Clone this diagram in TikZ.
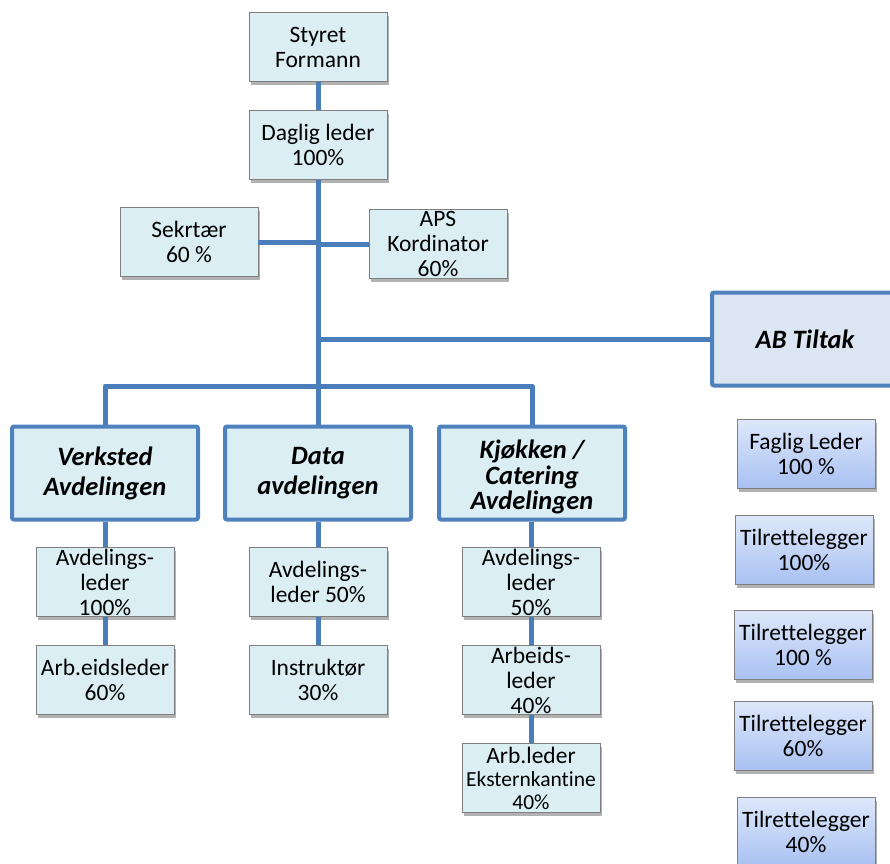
\documentclass[tikz,border=0pt]{standalone}
\usepackage{fontspec}
\setmainfont{Carlito}[Ligatures=NoCommon]
\usetikzlibrary{shadows}
\definecolor{boxfill}{HTML}{DAEEF3}
\definecolor{boxline}{HTML}{7F7F7F}
\definecolor{conn}{HTML}{4A7EBB}
\definecolor{deptline}{HTML}{4F81BD}
\definecolor{abfill}{HTML}{DCE6F2}
\definecolor{gradtop}{HTML}{DDE7FA}
\definecolor{gradbot}{HTML}{A9C1F2}
\begin{document}
\begin{tikzpicture}[x=1pt,y=-1pt,
  boxshape/.style={draw=boxline, line width=0.9pt, minimum width=138pt, minimum height=69pt, inner sep=0pt,
    drop shadow={shadow xshift=2pt, shadow yshift=-3pt, opacity=0.3, fill=black}},
  box/.style={boxshape, fill=boxfill},
  gbox/.style={boxshape, top color=gradtop, bottom color=gradbot},
  txt/.style={align=center, font=\fontsize{23.5}{25}\selectfont, inner sep=0pt},
  smalltxt/.style={align=center, font=\fontsize{21.5}{23}\selectfont, inner sep=0pt},
  dept/.style={draw=deptline, line width=4pt, fill=boxfill, rounded corners=2pt, minimum width=186pt, minimum height=93pt, inner sep=0pt},
  depttxt/.style={align=center, font=\fontsize{26.5}{30}\selectfont\bfseries\itshape, inner sep=0pt},
  conn/.style={draw=conn, line width=5pt, line join=round},
]
\useasboundingbox (0,0) rectangle (890,863);
\clip (0,0) rectangle (890,863);

% top
\node[box, label={[txt]center:{Styret\\Formann}}] (styret) at (318,47) {};
\node[box, label={[txt]center:{Daglig leder\\100\%}}] (daglig) at (318,145) {};
\node[box, label={[txt]center:{Sekrtær\\60 \%}}] (sek) at (189,242) {};
\node[box, label={[txt]center:{APS\\Kordinator\\60\%}}] (aps) at (438,244) {};

% AB Tiltak
\node[dept, fill=abfill, label={[depttxt]center:{AB Tiltak}}] (ab) at (805,339) {};

% departments
\coordinate (jbar) at (318,386);
\node[dept, label={[depttxt]center:{Verksted\\Avdelingen}}] (verk) at (105,473) {};
\node[dept, label={[depttxt]center:{Data\\avdelingen}}] (data) at (318,473) {};
\node[dept, label={[depttxt, yshift=-4pt, font=\fontsize{26.5}{25.5}\selectfont\bfseries\itshape]center:{Kjøkken /\\Catering\\Avdelingen}}] (kjok) at (532,473) {};

% sub boxes
\node[box, label={[txt]center:{Avdelings-\\leder\\100\%}}] (av1) at (105,582) {};
\node[box, label={[txt]center:{Arb.eidsleder\\60\%}}] (ar1) at (105,680) {};
\node[box, label={[txt]center:{Avdelings-\\leder 50\%}}] (av2) at (318,582) {};
\node[box, label={[txt]center:{Instruktør\\30\%}}] (in2) at (318,680) {};
\node[box, label={[txt]center:{Avdelings-\\leder\\50\%}}] (av3) at (531,582) {};
\node[box, label={[txt]center:{Arbeids-\\leder\\40\%}}] (ar3) at (531,680) {};
\node[box, label={[smalltxt]center:{{\fontsize{23.5}{23}\selectfont Arb.leder}\\Eksternkantine\\40\%}}] (ek3) at (531,778) {};

% right column
\node[gbox, label={[txt]center:{Faglig Leder\\100 \%}}] (fag) at (806,454) {};
\node[gbox, label={[txt]center:{Tilrettelegger\\100\%}}] (t1) at (804,550) {};
\node[gbox, label={[txt]center:{Tilrettelegger\\100 \%}}] (t2) at (803,645) {};
\node[gbox, label={[txt]center:{Tilrettelegger\\60\%}}] (t3) at (803,736) {};
\node[gbox, label={[txt]center:{Tilrettelegger\\40\%}}] (t4) at (806,832) {};

% connectors
\draw[conn] (styret.south) -- (daglig.north);
\draw[conn] (daglig.south) -- (data.north);
\draw[conn] (sek.east) -- (sek.east -| daglig.south);
\draw[conn] (aps.west) -- (aps.west -| daglig.south);
\draw[conn] (ab.west -| daglig.south) -- (ab.west);
\draw[conn] (verk.north) |- (jbar) -| (kjok.north);
\draw[conn] (verk.south) -- (av1.north);
\draw[conn] (av1.south) -- (ar1.north);
\draw[conn] (data.south) -- (av2.north);
\draw[conn] (av2.south) -- (in2.north);
\draw[conn] (kjok.south -| av3.north) -- (av3.north);
\draw[conn] (av3.south) -- (ar3.north);
\draw[conn] (ar3.south) -- (ek3.north);
\end{tikzpicture}
\end{document}
